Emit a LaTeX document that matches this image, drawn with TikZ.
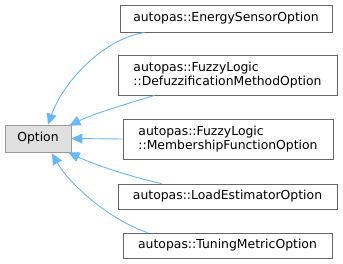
\documentclass[tikz,border=0pt]{standalone}
\usepackage{fontspec}
\setmainfont{DejaVu Sans}
\usetikzlibrary{arrows.meta,calc}
\definecolor{edgeblue}{HTML}{63B8FF}
\definecolor{basefill}{HTML}{E0E0E0}
\definecolor{baseline}{HTML}{999999}
\definecolor{classline}{HTML}{666666}
\tikzset{
  classbox/.style={draw=classline, fill=white, line width=0.8pt, rectangle,
    inner sep=0pt, font=\fontsize{12.4}{14}\selectfont, align=left},
  basebox/.style={classbox, draw=baseline, fill=basefill},
  edge/.style={draw=edgeblue, line width=0.9pt,
    {Triangle[length=11pt,width=10pt]}-},
}
\begin{document}
\begin{tikzpicture}[x=1pt,y=-1pt]
\useasboundingbox (0,0) rectangle (343,264);
\node[basebox, minimum width=66pt, minimum height=27pt] (o) at (38,138.5) {Option};
\node[classbox, minimum width=212pt, minimum height=27pt] (e) at (226,18.5) {autopas::EnergySensorOption};
\node[classbox, minimum width=219pt, minimum height=40pt] (d) at (227.5,75) {autopas::FuzzyLogic\\::DefuzzificationMethodOption};
\node[classbox, minimum width=210pt, minimum height=40pt] (m) at (228,139) {autopas::FuzzyLogic\\::MembershipFunctionOption};
\node[classbox, minimum width=219pt, minimum height=25pt] (l) at (227.5,196.5) {autopas::LoadEstimatorOption};
\node[classbox, minimum width=209pt, minimum height=25pt] (t) at (227.5,245.5) {autopas::TuningMetricOption};

\draw[edge] ($(o.north)+(10,0)$) .. controls (62,85) and (100,40) .. ($(e.south west)+(25,0)$);
\draw[edge] ($(o.north east)+(-2,1)$) .. controls (95,113) and (130,103) .. ($(d.south west)+(37,0)$);
\draw[edge] (o.east) -- (m.west);
\draw[edge] ($(o.south east)+(-3,0)$) .. controls (95,165) and (135,178) .. ($(l.north west)+(44,0)$);
\draw[edge] ($(o.south)+(14,1)$) .. controls (70,185) and (110,220) .. ($(t.north west)+(25,0)$);
\end{tikzpicture}
\end{document}
